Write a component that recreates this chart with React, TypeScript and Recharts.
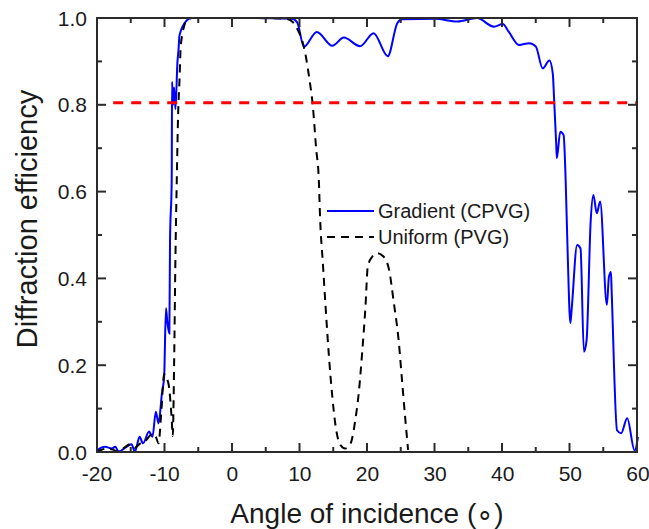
import { LineChart, Line, XAxis, YAxis } from "recharts";

const FONT = "'Liberation Sans', Arial, sans-serif";
const FRAME = "#2b2b2b";
const TEXT = "#1a1a1a";

// angle of incidence (deg) and efficiency, gradient grating (CPVG)
const gradientAngle = [
  -20, -19.8, -18.8, -17.8, -17.3, -16.8, -15.8, -14.9, -14.4, -13.7, -13.2, -12.3, -11.8, -11.3, -10.9,
  -10.4, -10.07, -9.8, -9.6, -9.3, -9.2, -8.95, -8.9, -8.75, -8.6, -8.4, -8.1, -7.95, -7.8, -6.7, -6, -2, 3,
  8.8, 9.6, 10.6, 12.5, 14.8, 16.5, 18.9, 20.9, 23.0, 24.4, 25.1, 30, 33.3, 36.2, 38.7, 40, 40.9, 42.4,
  43.9, 44.9, 45.9, 46.9, 47.4, 47.6, 47.9, 48.0, 48.5, 49.0, 49.3, 49.6, 50.0, 50.2, 51.0, 51.5, 52.0,
  52.4, 53.0, 53.4, 53.9, 54.4, 55.4, 55.7, 56.0, 56.1, 56.9, 57.5, 58.4, 59.5, 60,
];
const gradientEff = [
  0.0, 0.006, 0.012, 0.008, 0.012, 0.001, 0.01, 0.018, 0.001, 0.035, 0.02, 0.047, 0.035, 0.093, 0.066,
  0.135, 0.174, 0.331, 0.3, 0.273, 0.488, 0.627, 0.853, 0.8, 0.84, 0.79, 0.9, 0.926, 0.96, 0.995, 1.0, 1.0, 1.0,
  0.998, 0.99, 0.934, 0.968, 0.936, 0.955, 0.935, 0.965, 0.912, 0.988, 0.997, 0.998, 0.992, 1.0, 0.98, 0.986, 0.968, 0.938,
  0.942, 0.934, 0.884, 0.902, 0.872, 0.811, 0.711, 0.677, 0.738, 0.73, 0.627, 0.458, 0.297, 0.331, 0.477, 0.469, 0.231,
  0.258, 0.531, 0.592, 0.55, 0.577, 0.339, 0.404, 0.415, 0.373, 0.05, 0.043, 0.078, 0.003, 0.035,
];

// uniform grating (PVG)
const uniformAngle = [
  -20, -19.5, -18.5, -17.8, -16.8, -15.8, -15.1, -14.4, -13.6, -12.9, -12.0, -11.65, -11.3, -10.9, -10.5,
  -10.07, -9.9, -9.4, -8.95, -8.8, -8.6, -8.4, -8.2, -8.0, -7.8, -7.6, -6.7, -6, -2, 3, 8.1, 9.0, 9.6,
  10.3, 10.9, 11.4, 11.9, 12.4, 12.8, 13.0, 13.4, 13.8, 14.3, 14.8, 15.3, 16.0, 16.7, 17.5, 18.2, 18.7,
  19.2, 19.7, 20.04, 20.7, 21.4, 22.4, 23.2, 23.9, 24.6, 25.1, 25.6, 26.0,
];
const uniformEff = [
  0.0, 0.004, 0.008, 0.006, 0.001, 0.012, 0.018, 0.01, 0.02, 0.025, 0.04, 0.042, 0.035, 0.02, 0.09,
  0.18, 0.175, 0.155, 0.074, 0.037, 0.2, 0.45, 0.63, 0.78, 0.857, 0.94, 0.995, 1.0, 1.0, 1.0, 0.998, 0.99, 0.975,
  0.95, 0.91, 0.86, 0.8, 0.7, 0.627, 0.535, 0.435, 0.335, 0.22, 0.127, 0.058, 0.016, 0.008, 0.02, 0.074, 0.135,
  0.227, 0.335, 0.427, 0.45, 0.458, 0.45, 0.419, 0.343, 0.258, 0.166, 0.074, 0.005,
];

// 80% threshold line
const thresholdAngle = [-17.6, 60];
const thresholdEff = [0.805, 0.805];

const xTicks = [-20, -15, -10, -5, 0, 5, 10, 15, 20, 25, 30, 35, 40, 45, 50, 55, 60];
const yTicks = [0, 0.1, 0.2, 0.3, 0.4, 0.5, 0.6, 0.7, 0.8, 0.9, 1.0];

const toPoints = (xs: number[], ys: number[]) => xs.map((x, i) => ({ x, y: ys[i] }));
const gradientData = toPoints(gradientAngle, gradientEff);
const uniformData = toPoints(uniformAngle, uniformEff);
const thresholdData = toPoints(thresholdAngle, thresholdEff);

const legendItems = [
  { name: "Gradient (CPVG)", color: "#0000ff", dash: undefined },
  { name: "Uniform (PVG)", color: "#000000", dash: "8 6" },
];

const isMajorX = (v: number) => Math.round(v) % 10 === 0;
const isMajorY = (v: number) => Math.round(v * 10) % 2 === 0;

// plot box (matches the chart margins below)
const PL = 97;
const PR = 637;
const PT = 18;
const PB = 452;
const MINOR = 5;
const MAJOR = 9;
const TW = 2;

const px = (v: number) => PL + ((v + 20) / 80) * (PR - PL);
const py = (v: number) => PB - v * (PB - PT);

const BottomLabel = ({ x, y, payload }: any) =>
  isMajorX(payload.value) ? (
    <text x={x} y={y + 29} textAnchor="middle" fontSize={21} fontFamily={FONT} fill={TEXT}>
      {payload.value}
    </text>
  ) : (
    <g />
  );

const LeftLabel = ({ x, y, payload }: any) =>
  isMajorY(payload.value) ? (
    <text x={x - 10} y={y + 7.5} textAnchor="end" fontSize={21} fontFamily={FONT} fill={TEXT}>
      {payload.value.toFixed(1)}
    </text>
  ) : (
    <g />
  );

// box frame with inward ticks, axis titles and legend, laid over the chart
const Overlay = () => (
  <svg
    width={649}
    height={529}
    style={{ position: "absolute", left: 0, top: 0, pointerEvents: "none" }}
    fontFamily={FONT}
    fill={TEXT}
  >
    <rect x={PL} y={PT} width={PR - PL} height={PB - PT} fill="none" stroke={FRAME} strokeWidth={TW} />
    {xTicks.map((v) => {
      const len = isMajorX(v) ? MAJOR : MINOR;
      return (
        <g key={`x${v}`} stroke={FRAME} strokeWidth={TW}>
          <line x1={px(v)} x2={px(v)} y1={PB} y2={PB - len} />
          <line x1={px(v)} x2={px(v)} y1={PT} y2={PT + len} />
        </g>
      );
    })}
    {yTicks.map((v) => {
      const len = isMajorY(v) ? MAJOR : MINOR;
      return (
        <g key={`y${v}`} stroke={FRAME} strokeWidth={TW}>
          <line x1={PL} x2={PL + len} y1={py(v)} y2={py(v)} />
          <line x1={PR} x2={PR - len} y1={py(v)} y2={py(v)} />
        </g>
      );
    })}
    <text x={367} y={523} textAnchor="middle" fontSize={28}>
      Angle of incidence (∘)
    </text>
    <text x={37} y={219} textAnchor="middle" fontSize={29} transform="rotate(-90, 37, 219)">
      Diffraction efficiency
    </text>
    {legendItems.map((item, i) => (
      <g key={item.name}>
        <line
          x1={327}
          x2={374}
          y1={211 + i * 26}
          y2={211 + i * 26}
          stroke={item.color}
          strokeWidth={2}
          strokeDasharray={item.dash}
        />
        <text x={378} y={218 + i * 26} fontSize={20}>
          {item.name}
        </text>
      </g>
    ))}
  </svg>
);

const App = () => {
  return (
    <div style={{ position: "absolute", left: 0, top: 0, width: 649, height: 529 }}>
      <LineChart
        width={649}
        height={529}
        data={gradientData}
        margin={{ top: PT, right: 649 - PR - 1, bottom: 529 - PB - 1, left: PL - 1 }}
      >
        <XAxis
          dataKey="x"
          type="number"
          domain={[-20, 60]}
          ticks={xTicks}
          interval={0}
          height={1}
          tickSize={0}
          tickMargin={0}
          tickLine={false}
          axisLine={false}
          tick={<BottomLabel />}
        />
        <YAxis
          type="number"
          domain={[0, 1]}
          ticks={yTicks}
          interval={0}
          width={1}
          tickSize={0}
          tickMargin={0}
          tickLine={false}
          axisLine={false}
          tick={<LeftLabel />}
        />
        <Line
          dataKey="y"
          name="Gradient (CPVG)"
          type="monotone"
          stroke="#0000ff"
          strokeWidth={2}
          dot={false}
          activeDot={false}
          isAnimationActive={false}
        />
        <Line
          data={uniformData}
          dataKey="y"
          name="Uniform (PVG)"
          type="monotone"
          stroke="#000000"
          strokeWidth={2}
          strokeDasharray="8 6"
          dot={false}
          activeDot={false}
          isAnimationActive={false}
        />
        <Line
          data={thresholdData}
          dataKey="y"
          name="threshold"
          type="linear"
          stroke="#ff0000"
          strokeWidth={3}
          strokeDasharray="10 8"
          dot={false}
          activeDot={false}
          isAnimationActive={false}
        />
      </LineChart>
      <Overlay />
    </div>
  );
};

export default App;
